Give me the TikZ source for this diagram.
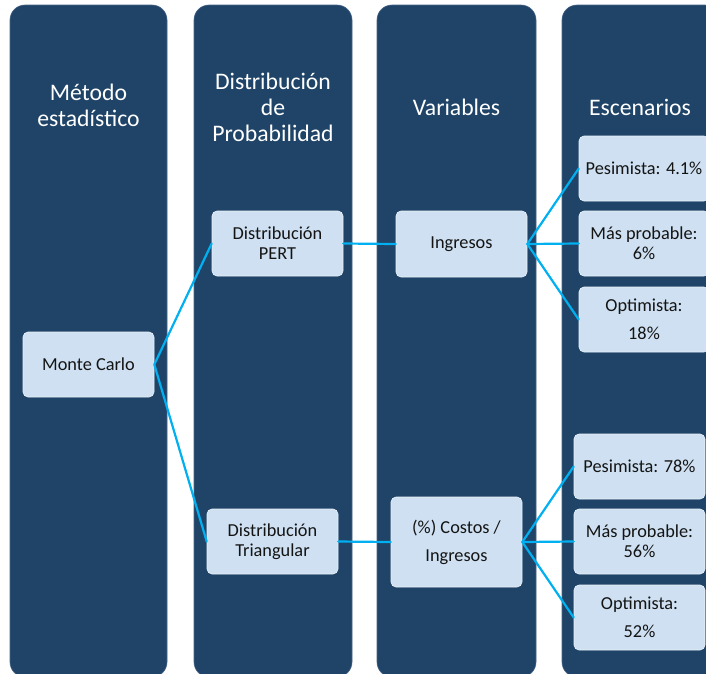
\documentclass[tikz,border=0pt]{standalone}
\usepackage{fontspec}
\setmainfont{Carlito}
\definecolor{colbg}{RGB}{31,68,104}
\definecolor{colline}{RGB}{70,100,135}
\definecolor{boxbg}{RGB}{206,224,241}
\definecolor{boxline}{RGB}{235,242,250}
\definecolor{conn}{RGB}{0,176,240}
\definecolor{txt}{RGB}{20,20,20}
\tikzset{
  column/.style={draw=colline, line width=0.6pt, fill=colbg, rounded corners=15pt, inner sep=0pt, anchor=center},
  title/.style={text=white, align=center, font=\fontsize{23.7}{26}\selectfont, inner sep=0pt},
  item/.style={draw=boxline, line width=0.6pt, fill=boxbg, rounded corners=5pt, text=txt, align=center,
    font=\fontsize{18.3}{20}\selectfont, minimum height=65pt, inner sep=0pt, anchor=center},
  wide/.style={font=\fontsize{18.3}{28}\selectfont},
  link/.style={draw=conn, line width=2.2pt, line join=round, line cap=round}
}
\begin{document}
\begin{tikzpicture}[x=1pt,y=-1pt]
\useasboundingbox (0,0) rectangle (706,673);
\clip (0,0) rectangle (706,673);
\fill[white] (0,0) rectangle (706,673);
% columns
\node[column, minimum width=157pt, minimum height=672pt] (c1) at (88.5,341) {};
\node[column, minimum width=158pt, minimum height=672pt] (c2) at (273,341) {};
\node[column, minimum width=159pt, minimum height=672pt] (c3) at (456.5,341) {};
\node[column, minimum width=158pt, minimum height=672pt] (c4) at (641,341) {};
% titles
\node[title] (t1) at (88.5,105.5) {Método\\estadístico};
\node[title] (t2) at (273,107) {Distribución\\de\\Probabilidad};
\node[title] (t3) at (456.5,107) {Variables};
\node[title] (t4) at (640,107) {Escenarios};
% boxes
\node[item, minimum width=131pt] (mc) at (88.5,364.5) {Monte Carlo};
\node[item, minimum width=131pt] (pert) at (277.5,243.5) {Distribución\\PERT};
\node[item, minimum width=131pt] (tri) at (272.5,541.5) {Distribución\\Triangular};
\node[item, minimum width=131pt, minimum height=66pt] (ing) at (461.5,244) {Ingresos};
\node[item, wide, minimum width=131pt, minimum height=90pt] (cost) at (456.5,542) {(\%) Costos /\\Ingresos};
\node[item, minimum width=130pt] (s1) at (644,168.5) {Pesimista: 4.1\%};
\node[item, minimum width=130pt] (s2) at (644,243.5) {Más probable:\\6\%};
\node[item, wide, minimum width=130pt] (s3) at (644,319.5) {Optimista:\\18\%};
\node[item, minimum width=131pt] (b1) at (639.5,466.5) {Pesimista: 78\%};
\node[item, minimum width=131pt] (b2) at (639.5,541.5) {Más probable:\\56\%};
\node[item, wide, minimum width=131pt] (b3) at (639.5,617.5) {Optimista:\\52\%};
% connectors
\draw[link] (pert.west) -- (mc.east) -- (tri.west);
\draw[link] (pert.east) -- (ing.west);
\draw[link] (tri.east) -- (cost.west);
\draw[link] (s1.west) -- (ing.east) -- (s3.west);
\draw[link] (ing.east) -- (s2.west);
\draw[link] (b1.west) -- (cost.east) -- (b3.west);
\draw[link] (cost.east) -- (b2.west);
\end{tikzpicture}
\end{document}
